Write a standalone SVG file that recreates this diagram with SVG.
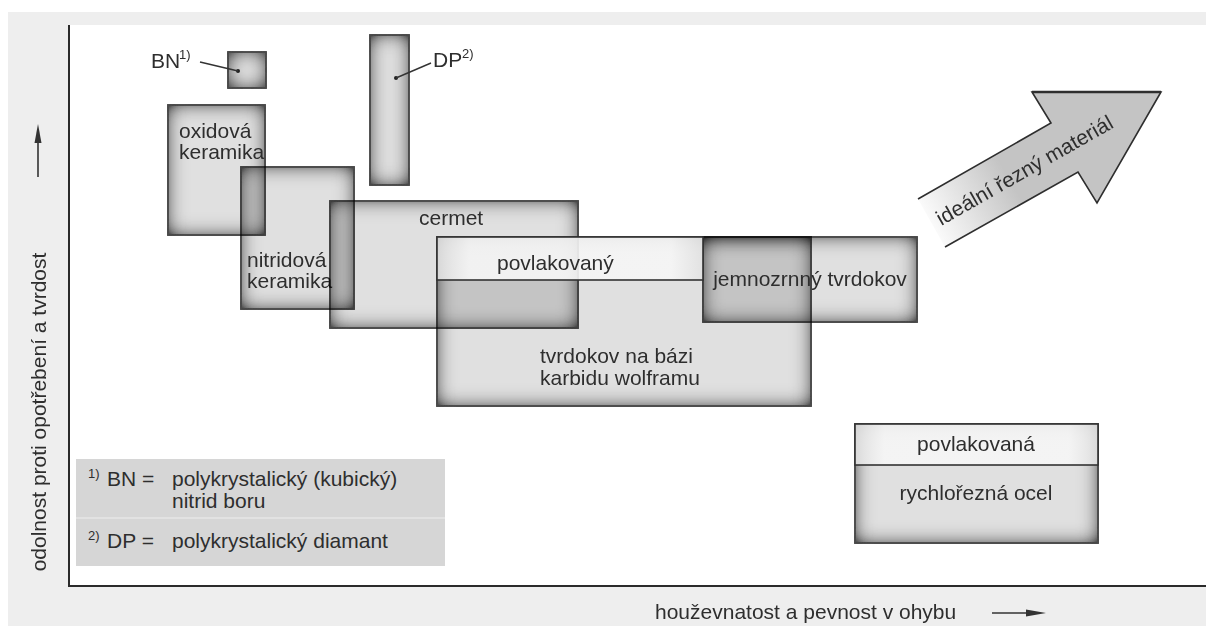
<svg xmlns="http://www.w3.org/2000/svg" width="1206" height="626" viewBox="0 0 1206 626">
<defs>
<style>
text{font-family:"Liberation Sans",Arial,"Noto Sans",sans-serif;fill:#2e2e2e;font-size:21px}
.sup{font-size:13px}
.box{fill:#e0e0e0;stroke:#333333;stroke-width:1.6;filter:url(#inset);mix-blend-mode:multiply}
.band{fill:url(#bandg);fill-opacity:0.9;stroke:#333333;stroke-width:1.6}
.lead{stroke:#333;stroke-width:1.4;fill:none}
.axis{stroke:#2a2a2a;stroke-width:2;fill:none}
</style>
<filter id="inset" x="-50%" y="-50%" width="200%" height="200%">
<feFlood flood-color="#4a4a4a" flood-opacity="1" result="f"/>
<feComposite in="f" in2="SourceAlpha" operator="out" result="ring"/>
<feGaussianBlur in="ring" stdDeviation="10" result="blur"/>
<feComponentTransfer in="blur" result="amp"><feFuncA type="linear" slope="1.5"/></feComponentTransfer>
<feComposite in="amp" in2="SourceAlpha" operator="in" result="sh"/>
<feMerge><feMergeNode in="SourceGraphic"/><feMergeNode in="sh"/></feMerge>
</filter>
<linearGradient id="bandg" x1="0" y1="0" x2="1" y2="0">
<stop offset="0" stop-color="#e0e0e0"/>
<stop offset="0.12" stop-color="#f6f6f6"/>
<stop offset="0.88" stop-color="#f6f6f6"/>
<stop offset="1" stop-color="#e2e2e2"/>
</linearGradient>
<linearGradient id="arrowg" gradientUnits="userSpaceOnUse" x1="925" y1="228" x2="1010" y2="180">
<stop offset="0" stop-color="#ffffff"/>
<stop offset="1" stop-color="#c4c4c4"/>
</linearGradient>
</defs>

<rect width="1206" height="626" fill="#ffffff"/>
<rect x="8" y="12" width="1198" height="614" fill="#eeeeee"/>
<rect x="69" y="25" width="1137" height="561" fill="#ffffff"/>

<g id="axes">
<path class="axis" d="M69,25 V586 H1206"/>
</g>

<g id="y-label">
<text transform="translate(46,412) rotate(-90)" text-anchor="middle">odolnost proti opotřebení a tvrdost</text>
<line x1="38" y1="177" x2="38" y2="138" stroke="#333" stroke-width="1.6"/>
<polygon points="38,124 34.5,143 41.5,143" fill="#333"/>
</g>

<g id="x-label">
<text x="655" y="619">houževnatost a pevnost v ohybu</text>
<line x1="992" y1="613" x2="1030" y2="613" stroke="#333" stroke-width="1.6"/>
<polygon points="1046,613 1026,609.5 1026,616.5" fill="#333"/>
</g>

<g id="oxidova">
<rect class="box" x="168" y="105" width="97" height="130"/>
<text x="179" y="138">oxidová</text>
<text x="179" y="159">keramika</text>
</g>

<g id="nitridova">
<rect class="box" x="241" y="167" width="113" height="142"/>
<text x="247" y="267">nitridová</text>
<text x="247" y="288">keramika</text>
</g>

<g id="bn">
<rect class="box" x="228" y="52" width="38" height="36"/>
<circle cx="238" cy="71" r="2" fill="#222"/>
<text x="151" y="68">BN</text>
<text class="sup" x="179" y="59">1)</text>
</g>

<g id="dp">
<rect class="box" x="370" y="35" width="39" height="150"/>
<circle cx="396" cy="78" r="2" fill="#222"/>
<text x="433" y="67">DP</text>
<text class="sup" x="462" y="58">2)</text>
</g>

<g id="cermet">
<rect class="box" x="330" y="201" width="248" height="127"/>
<text x="419" y="225">cermet</text>
</g>

<g id="tvrdokov">
<rect class="box" x="437" y="237" width="374" height="169"/>
<text x="540" y="363">tvrdokov na bázi</text>
<text x="540" y="385">karbidu wolframu</text>
</g>

<g id="jemnozrnny">
<rect class="box" x="703" y="237" width="214" height="85"/>
<text x="810" y="286" text-anchor="middle">jemnozrnný tvrdokov</text>
</g>

<g id="povlakovany">
<rect class="band" x="437" y="237" width="266" height="43"/>
<text x="497" y="270">povlakovaný</text>
</g>

<g id="rychlorezna">
<rect class="box" x="855" y="424" width="243" height="119"/>
<rect class="band" x="855" y="424" width="243" height="41" fill-opacity="1"/>
<text x="976" y="451" text-anchor="middle">povlakovaná</text>
<text x="976" y="500" text-anchor="middle">rychlořezná ocel</text>
</g>

<g id="idealni">
<polygon points="918,199 1051,123 1032,92 1161,92 1097,203 1078,172 945,247" fill="url(#arrowg)"/>
<polyline points="945,247 1078,172 1097,203 1161,92 1032,92 1051,123 918,199" fill="none" stroke="#2e2e2e" stroke-width="1.6" stroke-linejoin="miter"/>
<line x1="1032" y1="92" x2="1161" y2="92" stroke="#2e2e2e" stroke-width="2.6"/>
<text transform="translate(1028,176.5) rotate(-29.7)" text-anchor="middle">ideální řezný materiál</text>
</g>

<g id="legend">
<rect x="76" y="459" width="369" height="107" fill="#d6d6d6"/>
<line x1="76" y1="518" x2="445" y2="518" stroke="#e2e2e2" stroke-width="2"/>
<text class="sup" x="88" y="478">1)</text>
<text x="107" y="486">BN =</text>
<text x="172" y="486">polykrystalický (kubický)</text>
<text x="172" y="508">nitrid boru</text>
<text class="sup" x="88" y="540">2)</text>
<text x="107" y="548">DP =</text>
<text x="172" y="548">polykrystalický diamant</text>
</g>

<g id="connectors">
<line class="lead" x1="200" y1="62" x2="238" y2="71"/>
<line class="lead" x1="431" y1="63" x2="396" y2="78"/>
</g>
</svg>
